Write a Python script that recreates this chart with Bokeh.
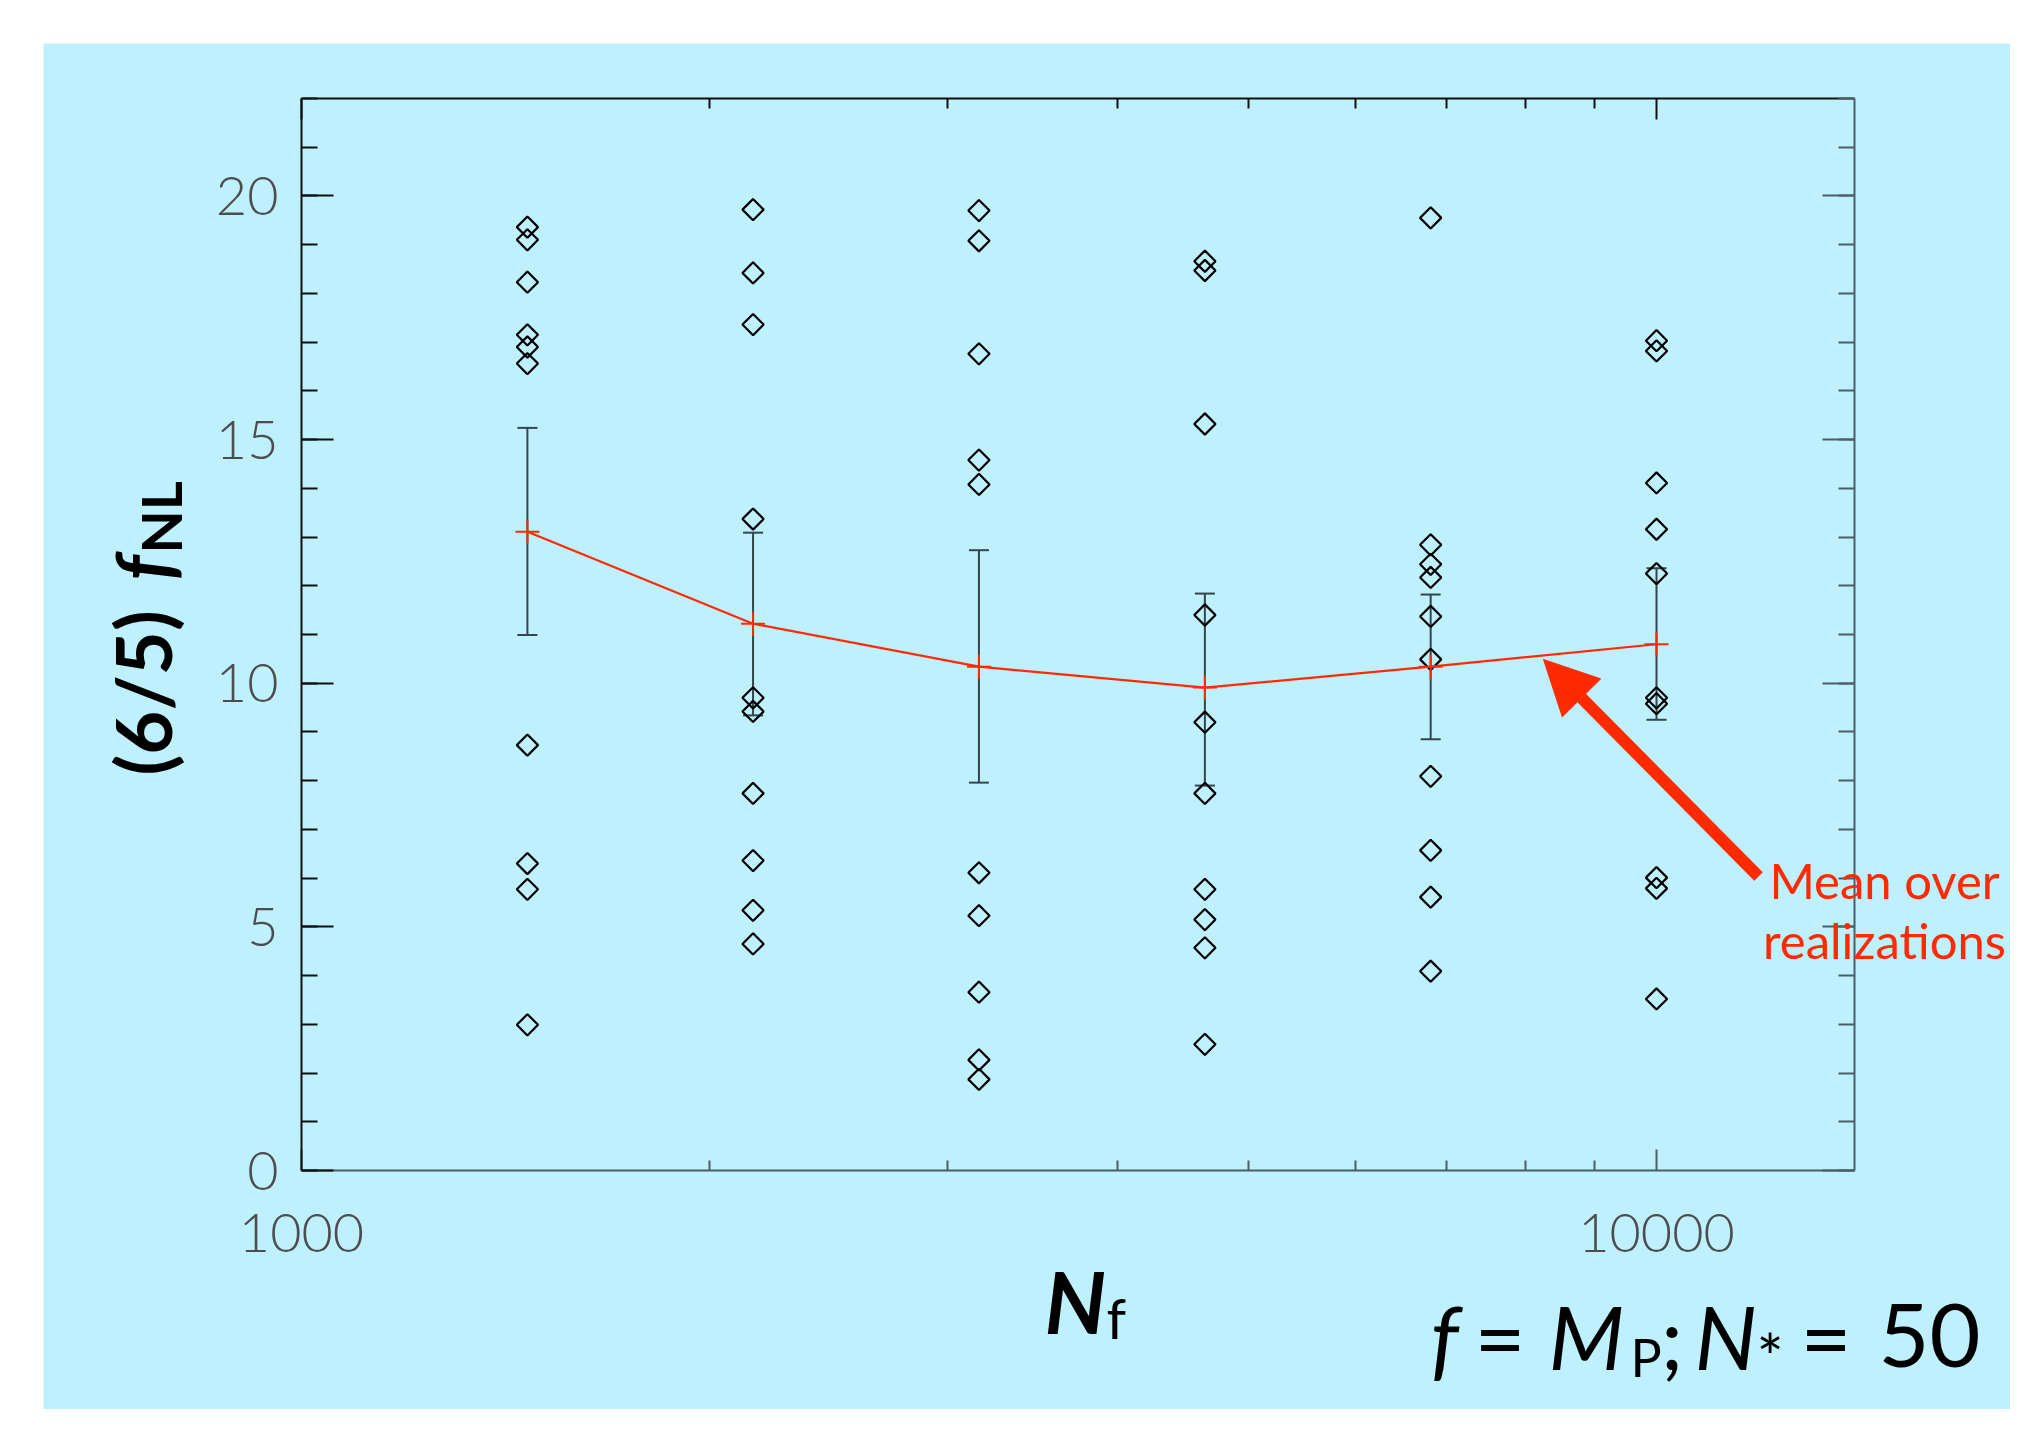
import numpy as np
from bokeh.plotting import figure
from bokeh.models import (LinearAxis, LogAxis, FixedTicker, Range1d, Label, Arrow,
                          NormalHead, Whisker, TeeHead, ColumnDataSource,
                          CustomJSTickFormatter, NumeralTickFormatter)
from bokeh.embed import file_html
from bokeh.resources import INLINE

# ---------------- data ----------------
nf = [1468, 2154, 3162, 4642, 6813, 10000]
fnl_nf1468 = [19.36, 19.10, 18.23, 17.15, 16.90, 16.56, 8.73, 6.30, 5.77, 2.99]
fnl_nf2154 = [19.72, 18.42, 17.36, 13.37, 9.70, 9.42, 7.74, 6.36, 5.34, 4.65]
fnl_nf3162 = [19.70, 19.08, 16.76, 14.58, 14.08, 6.11, 5.23, 3.66, 2.27, 1.87]
fnl_nf4642 = [18.66, 18.47, 15.32, 11.40, 9.20, 7.74, 5.77, 5.15, 4.57, 2.59]
fnl_nf6813 = [19.55, 12.84, 12.44, 12.17, 11.37, 10.49, 8.09, 6.57, 5.61, 4.09]
fnl_nf10000 = [17.03, 16.82, 14.11, 13.16, 12.25, 9.70, 9.58, 6.01, 5.79, 3.52]
mean_fnl = [13.11, 11.22, 10.34, 9.91, 10.34, 10.80]
err_upper = [15.24, 13.09, 12.73, 11.84, 11.82, 12.36]
err_lower = [10.99, 9.34, 7.96, 7.90, 8.85, 9.25]

x_major_ticks = [1000, 10000]
x_minor_ticks = [2000, 3000, 4000, 5000, 6000, 7000, 8000, 9000]
y_major_ticks = [0, 5, 10, 15, 20]
y_minor_ticks = list(range(0, 23))

# ---------------- styling / layout ----------------
BG = "#BEF0FD"
RED = "#FF2A00"
DARK = "#111111"
GREYAX = "#4a5f66"
TICKLBL = "#4d4d4d"

PAGE_X0, PAGE_Y0 = 43, 43          # light-blue panel on the page
W, H = 1967, 1366                  # panel size
BX0, BX1, BY0, BY1 = 301, 1854, 98, 1170   # plot box on the page
XMIN, XMAX = 1000, 14000
YMIN, YMAX = 0, 22

LO, HI = np.log10(XMIN), np.log10(XMAX)
XPP = (HI - LO) / (BX1 - BX0)       # log-decades per pixel
YPP = (YMAX - YMIN) / (BY1 - BY0)   # data units per pixel


def dx(px):
    return float(10 ** (LO + (px - BX0) * XPP))


def dy(py):
    return float(YMAX - (py - BY0) * YPP)


x_start, x_end = dx(PAGE_X0), dx(PAGE_X0 + W)
y_start, y_end = dy(PAGE_Y0 + H), dy(PAGE_Y0)

p = figure(width=W, height=H, x_axis_type="log",
           x_range=Range1d(x_start, x_end), y_range=Range1d(y_start, y_end),
           x_axis_location=None, y_axis_location=None,
           output_backend="svg", toolbar_location=None,
           min_border_left=0, min_border_right=0,
           min_border_top=0, min_border_bottom=0,
           background_fill_color=BG, border_fill_color=BG)
p.outline_line_color = None
p.xgrid.visible = False
p.ygrid.visible = False
p.margin = (PAGE_Y0, 0, 0, PAGE_X0)


def style_axis(ax, major_in, minor_in, color):
    ax.major_tick_in = major_in
    ax.major_tick_out = 0
    ax.minor_tick_in = minor_in
    ax.minor_tick_out = 0
    ax.axis_line_color = color
    ax.axis_line_width = 2
    ax.major_tick_line_color = color
    ax.major_tick_line_width = 2
    ax.minor_tick_line_color = color
    ax.minor_tick_line_width = 2


def hide_labels(ax):
    ax.formatter = CustomJSTickFormatter(code="return ''")
    ax.major_label_text_font_size = "2px"
    ax.major_label_standoff = 0


yticker = FixedTicker(ticks=y_major_ticks, minor_ticks=y_minor_ticks)
xticker = FixedTicker(ticks=x_major_ticks, minor_ticks=x_minor_ticks)

yl = LinearAxis(ticker=yticker, fixed_location=XMIN, bounds=(YMIN, YMAX))
style_axis(yl, 32, 16, DARK)
yl.major_label_text_font = "Lato Light"
yl.major_label_text_font_size = "54px"
yl.major_label_text_color = TICKLBL
yl.major_label_standoff = 23
p.add_layout(yl, "left")

yr = LinearAxis(ticker=yticker, fixed_location=XMAX, bounds=(YMIN, YMAX))
style_axis(yr, 32, 16, GREYAX)
hide_labels(yr)
p.add_layout(yr, "right")

xb = LogAxis(ticker=xticker, formatter=NumeralTickFormatter(format="0"),
             fixed_location=YMIN, bounds=(XMIN, XMAX))
style_axis(xb, 21, 10, GREYAX)
xb.major_label_text_font = "Lato Light"
xb.major_label_text_font_size = "54px"
xb.major_label_text_color = TICKLBL
xb.major_label_standoff = 43
p.add_layout(xb, "below")

xt = LogAxis(ticker=xticker, fixed_location=YMAX, bounds=(XMIN, XMAX))
style_axis(xt, 21, 10, DARK)
hide_labels(xt)
p.add_layout(xt, "above")

# ---------------- data marks ----------------
cols = [fnl_nf1468, fnl_nf2154, fnl_nf3162, fnl_nf4642, fnl_nf6813, fnl_nf10000]
xs = [n for n, c in zip(nf, cols) for _ in c]
ys = [v for c in cols for v in c]
p.scatter(xs, ys, marker="square", size=15, angle=np.pi / 4,
          fill_color=None, line_color="black", line_width=2.2)

err_src = ColumnDataSource(dict(base=nf, upper=err_upper, lower=err_lower))
p.add_layout(Whisker(source=err_src, base="base", upper="upper", lower="lower",
                     line_color="#34464c", line_width=2,
                     upper_head=TeeHead(size=20, line_color="#34464c", line_width=2),
                     lower_head=TeeHead(size=20, line_color="#34464c", line_width=2)))

p.line(nf, mean_fnl, line_color=RED, line_width=2.2)
p.scatter(nf, mean_fnl, marker="cross", size=24, line_color=RED, line_width=2)


# ---------------- annotations ----------------
MID = 0.37   # distance (in em) from the text's middle line to its baseline


def lab(text, px, py, size, style="normal", color="black", align="left",
        angle=0.0, font="Lato"):
    # (px, py) is the intended start of the baseline on the page
    if angle == 0.0:
        py = py - MID * size
    else:
        px = px - MID * size
    p.add_layout(Label(x=dx(px), y=dy(py), x_units="data", y_units="data",
                       text=text, text_font=font, text_font_size=f"{size}px",
                       text_font_style=style, text_color=color,
                       text_align=align, text_baseline="middle",
                       angle=angle))


# y-axis title (rotated)
lab("(6/5)", 170, 775, 76, "bold", angle=np.pi / 2)
lab("f", 170, 580, 76, "bold italic", angle=np.pi / 2)
lab("NL", 181, 553, 56, "bold", angle=np.pi / 2)

# x-axis title
lab("N", 1044, 1332, 86, "bold italic")
lab("f", 1106, 1338, 56, "normal")

# bottom-right parameters
lab("f", 1430, 1368, 88, "italic")
lab("=", 1474, 1368, 88)
lab("M", 1548, 1368, 88, "italic")
lab("P", 1630, 1376, 52)
lab(";", 1660, 1368, 88)
lab("N", 1694, 1368, 88, "italic")
lab("*", 1756, 1380, 64)
lab("=", 1800, 1368, 88)
lab("50", 1878, 1368, 88)

# red callout
lab("Mean over", 1884, 898, 49, color=RED, align="center")
lab("realizations", 1884, 958, 49, color=RED, align="center")
p.add_layout(Arrow(x_start=dx(1758), y_start=dy(876), x_end=dx(1543), y_end=dy(659),
                   line_color=RED, line_width=12,
                   end=NormalHead(size=54, fill_color=RED, line_color=RED)))

open("out.html", "w").write(file_html(p, INLINE))
